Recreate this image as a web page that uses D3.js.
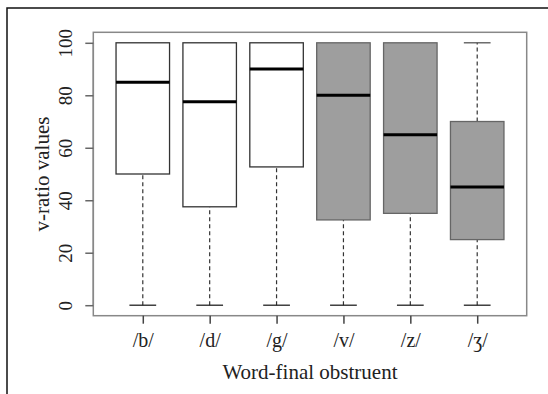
<!DOCTYPE html>
<html>
<head>
<meta charset="utf-8">
<script src="https://cdn.jsdelivr.net/npm/d3@7"></script>
<style>
  body { margin: 0; background: #fff; }
  text { font-family: "Liberation Serif", "DejaVu Serif", serif; fill: #222; }
</style>
</head>
<body>
<svg id="chart" width="548" height="394"></svg>
<script>
// box statistics
const categories = ["/b/", "/d/", "/g/", "/v/", "/z/", "/ʒ/"];
const lowWhisker = [0, 0, 0, 0, 0, 0];
const q1 = [50, 37.5, 52.7, 32.5, 35, 25];
const median = [85, 77.5, 90, 80, 65, 45];
const q3 = [100, 100, 100, 100, 100, 70];
const highWhisker = [100, 100, 100, 100, 100, 100];
const voiced = [false, false, false, true, true, true];
const yTicks = [0, 20, 40, 60, 80, 100];

const data = categories.map((c, i) => ({
	name: c, i: i + 1, lo: lowWhisker[i], q1: q1[i], med: median[i],
	q3: q3[i], hi: highWhisker[i], grey: voiced[i]
}));

const margin = { top: 32.3, right: 21.3, bottom: 78.3, left: 93.3 },
	width = 548,
	height = 394;

const svg = d3.select("#chart");

// outer frame (cut off on the right and bottom)
svg.append("rect")
	.attr("x", 7).attr("y", 8)
	.attr("width", 600).attr("height", 500)
	.attr("fill", "none").attr("stroke", "#111").attr("stroke-width", 1.5);

const x = d3.scaleLinear()
	.domain([0.26, 6.74])
	.range([margin.left, width - margin.right]);

const y = d3.scaleLinear()
	.domain([-4, 104])
	.range([height - margin.bottom, margin.top]);

const boxW = (x(1) - x(0)) * 0.8;
const capW = boxW / 2;

// whiskers
const g = svg.append("g");
g.selectAll(".whisk-lo")
	.data(data.filter(d => d.lo < d.q1))
	.join("line")
	.attr("x1", d => x(d.i)).attr("x2", d => x(d.i))
	.attr("y1", d => y(d.lo)).attr("y2", d => y(d.q1))
	.attr("stroke", "#333").attr("stroke-width", 1.2)
	.attr("stroke-dasharray", "4,3");

g.selectAll(".whisk-hi")
	.data(data.filter(d => d.hi > d.q3))
	.join("line")
	.attr("x1", d => x(d.i)).attr("x2", d => x(d.i))
	.attr("y1", d => y(d.q3)).attr("y2", d => y(d.hi))
	.attr("stroke", "#333").attr("stroke-width", 1.2)
	.attr("stroke-dasharray", "4,3");

// caps
g.selectAll(".cap-lo")
	.data(data)
	.join("line")
	.attr("x1", d => x(d.i) - capW / 2).attr("x2", d => x(d.i) + capW / 2)
	.attr("y1", d => y(d.lo)).attr("y2", d => y(d.lo))
	.attr("stroke", "#222").attr("stroke-width", 1.3);

g.selectAll(".cap-hi")
	.data(data.filter(d => d.hi > d.q3))
	.join("line")
	.attr("x1", d => x(d.i) - capW / 2).attr("x2", d => x(d.i) + capW / 2)
	.attr("y1", d => y(d.hi)).attr("y2", d => y(d.hi))
	.attr("stroke", "#555").attr("stroke-width", 1.3);

// boxes
g.selectAll("rect.box")
	.data(data)
	.join("rect")
	.attr("class", "box")
	.attr("x", d => x(d.i) - boxW / 2)
	.attr("y", d => y(d.q3))
	.attr("width", boxW)
	.attr("height", d => y(d.q1) - y(d.q3))
	.attr("fill", d => d.grey ? "#9e9e9e" : "#fff")
	.attr("stroke", d => d.grey ? "#666" : "#333")
	.attr("stroke-width", 1.3);

// medians
g.selectAll(".med")
	.data(data)
	.join("line")
	.attr("x1", d => x(d.i) - boxW / 2).attr("x2", d => x(d.i) + boxW / 2)
	.attr("y1", d => y(d.med)).attr("y2", d => y(d.med))
	.attr("stroke", "#000").attr("stroke-width", 3);

// plot frame
svg.append("rect")
	.attr("x", margin.left).attr("y", margin.top)
	.attr("width", width - margin.left - margin.right)
	.attr("height", height - margin.top - margin.bottom)
	.attr("fill", "none").attr("stroke", "#888").attr("stroke-width", 1.5);

// y axis
const yAxis = svg.append("g")
	.attr("transform", `translate(${margin.left},0)`)
	.call(d3.axisLeft(y).tickValues(yTicks).tickSize(8).tickSizeOuter(0).tickPadding(0));
yAxis.select(".domain").attr("stroke", "#888").attr("stroke-width", 1.5)
	.attr("d", `M0,${y(0)}V${y(100)}`);
yAxis.selectAll(".tick line").attr("stroke", "#666").attr("stroke-width", 1.5);
yAxis.selectAll(".tick text")
	.attr("x", 0).attr("dy", null)
	.attr("transform", "translate(-26,0) rotate(-90)")
	.attr("text-anchor", "middle")
	.attr("dominant-baseline", "middle")
	.style("font-size", "19px")
	.style("font-family", "Liberation Serif, serif")
	.attr("fill", "#222");

// x axis
const xAxis = svg.append("g")
	.attr("transform", `translate(0,${height - margin.bottom})`)
	.call(d3.axisBottom(x).tickValues(data.map(d => d.i))
		.tickFormat(i => categories[i - 1]).tickSize(8).tickSizeOuter(0).tickPadding(9));
xAxis.select(".domain").remove();
xAxis.selectAll(".tick line").attr("stroke", "#444").attr("stroke-width", 1.5);
xAxis.selectAll(".tick text")
	.style("font-size", "20px")
	.style("font-family", "Liberation Serif, serif")
	.attr("fill", "#222");

// axis titles
svg.append("text")
	.attr("x", (margin.left + width - margin.right) / 2)
	.attr("y", 379)
	.attr("text-anchor", "middle")
	.style("font-size", "21px")
	.text("Word-final obstruent");

svg.append("text")
	.attr("transform", `translate(49,${(margin.top + height - margin.bottom) / 2}) rotate(-90)`)
	.attr("text-anchor", "middle")
	.style("font-size", "21px")
	.text("v-ratio values");
</script>
</body>
</html>
